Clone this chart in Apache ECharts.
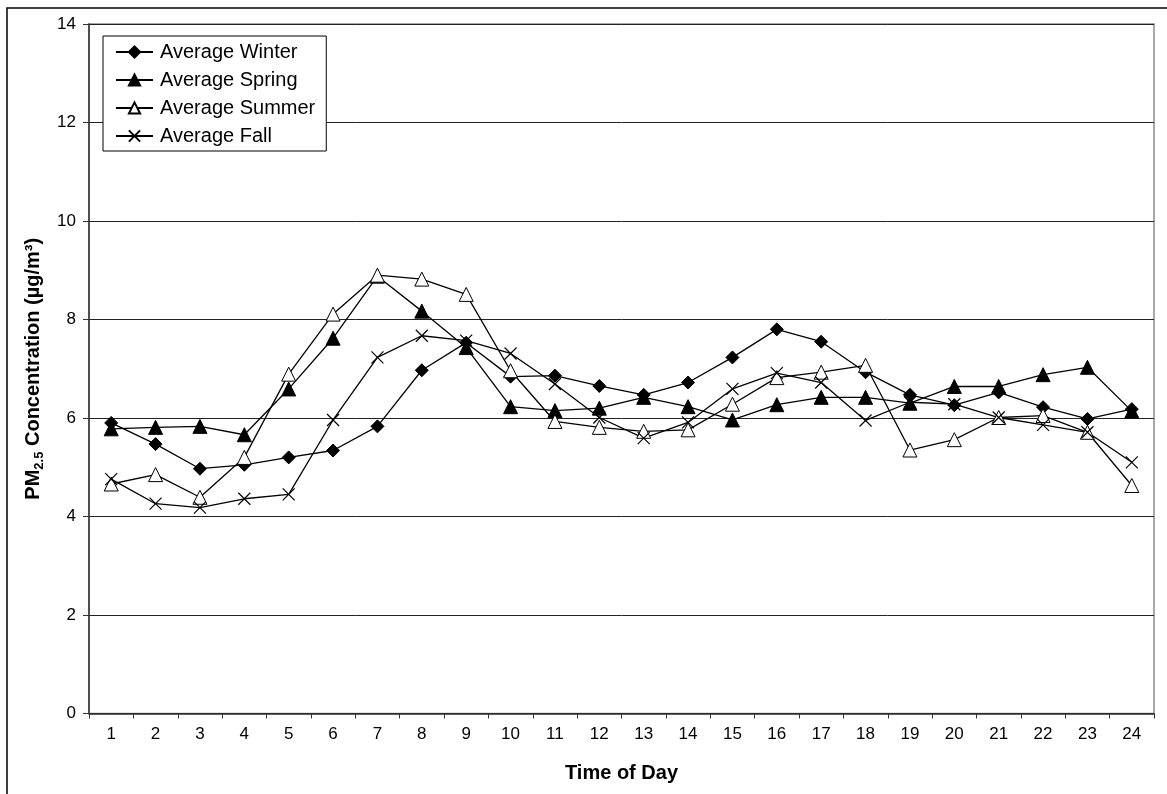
<!DOCTYPE html>
<html>
<head>
<meta charset="utf-8">
<style>
  html, body { margin: 0; padding: 0; background: #fff; }
  #chart { width: 1167px; height: 794px; }
</style>
<script src="https://cdn.jsdelivr.net/npm/echarts@6/dist/echarts.min.js"></script>
</head>
<body>
<div id="chart"></div>
<script>
// Hour of day (1-24)
const hours = ['1','2','3','4','5','6','7','8','9','10','11','12','13','14','15','16','17','18','19','20','21','22','23','24'];

// Seasonal hourly averages of PM2.5 (µg/m³)
const winter = [5.90, 5.47, 4.97, 5.05, 5.20, 5.34, 5.83, 6.97, 7.53, 6.84, 6.86, 6.65, 6.47, 6.72, 7.23, 7.80, 7.55, 6.93, 6.47, 6.26, 6.52, 6.22, 5.98, 6.18];
const spring = [5.78, 5.81, 5.83, 5.66, 6.59, 7.62, 8.88, 8.17, 7.43, 6.23, 6.15, 6.20, 6.42, 6.23, 5.96, 6.27, 6.42, 6.42, 6.30, 6.64, 6.64, 6.88, 7.03, 6.14];
const summer = [4.66, 4.85, 4.39, 5.20, 6.89, 8.11, 8.90, 8.82, 8.51, 6.96, 5.93, 5.81, 5.73, 5.76, 6.28, 6.82, 6.93, 7.07, 5.35, 5.56, 6.01, 6.05, 5.71, 4.63];
const fall   = [4.76, 4.26, 4.18, 4.36, 4.45, 5.96, 7.23, 7.67, 7.57, 7.31, 6.69, 6.01, 5.59, 5.91, 6.59, 6.91, 6.72, 5.95, 6.32, 6.28, 6.01, 5.86, 5.71, 5.10];

const yTicks = { min: 0, max: 14, interval: 2 };

const FONT = '"Liberation Sans", Arial, sans-serif';
const crossPath = 'path://M0,0L10,10M10,0L0,10';

function makeSeries(name, data, symbol, size, fill) {
  return {
    name: name,
    type: 'line',
    data: data,
    symbol: symbol,
    symbolSize: size,
    showAllSymbol: true,
    lineStyle: { color: '#000', width: 1.3 },
    itemStyle: { color: fill, borderColor: '#000', borderWidth: symbol === crossPath ? 1.2 : 1 },
    emphasis: { disabled: true },
    animation: false,
    z: 3
  };
}

const chart = echarts.init(document.getElementById('chart'), null, { renderer: 'canvas' });

chart.setOption({
  backgroundColor: '#fff',
  textStyle: { fontFamily: FONT },
  grid: {
    left: 89, top: 24, width: 1065, height: 689.5,
    show: true, borderColor: '#8c8c8c', borderWidth: 1.5, backgroundColor: '#fff'
  },
  legend: {
    orient: 'vertical',
    left: 103, top: 36,
    itemWidth: 37, itemHeight: 14, itemGap: 8,
    padding: [6, 11, 5, 12],
    borderColor: '#000', borderWidth: 1,
    backgroundColor: '#fff',
    textStyle: { fontFamily: FONT, fontSize: 20, color: '#000', lineHeight: 20, padding: [0, 0, 0, 2] },
    data: ['Average Winter', 'Average Spring', 'Average Summer', 'Average Fall']
  },
  xAxis: {
    type: 'category',
    data: hours,
    boundaryGap: true,
    name: 'Time of Day',
    nameLocation: 'middle',
    nameGap: 50,
    nameTextStyle: { fontFamily: FONT, fontSize: 20, fontWeight: 'bold', color: '#000', lineHeight: 20 },
    axisLine: { lineStyle: { color: '#333', width: 1.5 } },
    axisTick: { show: true, length: 5, alignWithLabel: false, lineStyle: { color: '#333' } },
    axisLabel: { fontFamily: FONT, fontSize: 17, color: '#000', margin: 12 },
    splitLine: { show: false }
  },
  yAxis: {
    type: 'value',
    min: yTicks.min, max: yTicks.max, interval: yTicks.interval,
    name: '{b|PM}{s|2.5}{b| Concentration (µg/m³)}',
    nameLocation: 'middle',
    nameRotate: 90,
    nameGap: 38,
    nameTextStyle: {
      rich: {
        b: { fontFamily: FONT, fontSize: 20, fontWeight: 'bold', color: '#000', lineHeight: 22, verticalAlign: 'bottom' },
        s: { fontFamily: FONT, fontSize: 13, fontWeight: 'bold', color: '#000', lineHeight: 22, verticalAlign: 'bottom', padding: [0, 0, -3, 0] }
      }
    },
    axisLine: { show: true, lineStyle: { color: '#333', width: 1.5 } },
    axisTick: { show: true, length: 6, inside: false, lineStyle: { color: '#333' } },
    axisLabel: { fontFamily: FONT, fontSize: 17, color: '#000', margin: 13 },
    splitLine: { show: true, lineStyle: { color: '#222', width: 1 } }
  },
  graphic: [
    {
      type: 'polyline',
      shape: { points: [[7, 800], [7, 8], [1167, 8]] },
      style: { stroke: '#000', lineWidth: 1.5, fill: null },
      silent: true
    }
  ],
  series: [
    makeSeries('Average Winter', winter, 'diamond', 13, '#000'),
    makeSeries('Average Spring', spring, 'triangle', 14, '#000'),
    makeSeries('Average Summer', summer, 'triangle', 14, '#fff'),
    makeSeries('Average Fall', fall, crossPath, 12, 'rgba(0,0,0,0)')
  ]
});
</script>
</body>
</html>
